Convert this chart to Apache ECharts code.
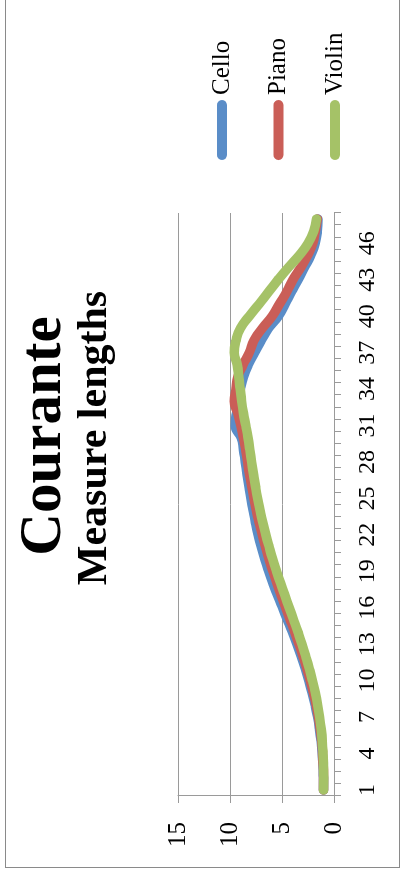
<!DOCTYPE html>
<html>
<head>
<meta charset="utf-8">
<script src="https://cdn.jsdelivr.net/npm/echarts@6/dist/echarts.min.js"></script>
<style>
html,body{margin:0;padding:0;background:#fff;width:401px;height:879px;overflow:hidden;}
#wrap{position:absolute;left:5px;top:868px;width:872px;height:395px;transform-origin:0 0;transform:rotate(-90deg);}
#chart{position:absolute;left:0;top:0;width:872px;height:395px;}
#frame{position:absolute;left:0;top:0;width:872px;height:395px;box-sizing:border-box;border:1px solid #8a8a8a;pointer-events:none;}
</style>
</head>
<body>
<div id="wrap"><div id="chart"></div><div id="frame"></div></div>
<script>
var categories = ['1','2','3','4','5','6','7','8','9','10','11','12','13','14','15','16','17','18','19','20','21','22','23','24','25','26','27','28','29','30','31','32','33','34','35','36','37','38','39','40','41','42','43','44','45','46','47','48'];
var cello = [1.0,1.02,1.06,1.13,1.24,1.39,1.58,1.82,2.1,2.42,2.77,3.15,3.56,4.0,4.47,4.95,5.42,5.86,6.27,6.65,6.99,7.29,7.55,7.78,7.99,8.18,8.36,8.53,8.7,8.92,9.5,9.38,9.22,9.0,8.7,8.25,7.65,7.0,6.3,5.35,4.7,4.1,3.45,2.85,2.25,1.8,1.6,1.55];
var piano = [1.0,1.0,1.04,1.1,1.19,1.32,1.5,1.72,1.98,2.28,2.61,2.97,3.36,3.77,4.2,4.64,5.07,5.48,5.87,6.24,6.58,6.9,7.19,7.46,7.7,7.92,8.12,8.31,8.5,8.7,8.95,9.25,9.6,9.42,9.25,8.75,8.15,7.7,6.9,5.95,5.25,4.55,3.95,3.2,2.55,2.05,1.8,1.6];
var violin = [1.0,0.99,1.01,1.05,1.12,1.23,1.38,1.57,1.8,2.07,2.38,2.72,3.08,3.47,3.88,4.3,4.72,5.13,5.52,5.89,6.23,6.55,6.84,7.1,7.34,7.55,7.74,7.92,8.09,8.27,8.48,8.7,8.88,9.02,9.15,9.3,9.6,9.42,9.0,8.15,7.2,6.3,5.38,4.4,3.35,2.5,1.95,1.68];
var seriesNames = ['Cello','Piano','Violin'];
var valueTicks = [0,5,10,15];

var font = 'Liberation Serif';
var colors = ['#5A8DC8','#CA5E57','#A5C267'];
var chart = echarts.init(document.getElementById('chart'), null, {renderer:'canvas'});
function mk(name, data, color){
  return {name:name, type:'line', data:data, smooth:0.5, showSymbol:false, symbol:'none',
    lineStyle:{width:9.5, color:color, cap:'round', join:'round'}, itemStyle:{color:color}};
}
chart.setOption({
  animation:false,
  backgroundColor:'#fff',
  title:[
    {text:'Courante', left:432, top:10, textAlign:'center', padding:0,
     textStyle:{fontFamily:font, fontWeight:'bold', fontSize:59, lineHeight:59, color:'#000'}},
    {text:'Measure lengths', left:430, top:69, textAlign:'center', padding:0,
     textStyle:{fontFamily:font, fontWeight:'bold', fontSize:42, lineHeight:42, color:'#000'}}
  ],
  legend:{orient:'vertical', left:708, top:202, padding:0, itemWidth:60, itemHeight:10, itemGap:26.5,
    icon:'path://M5,0 L55,0 A5,5 0 0 1 55,10 L5,10 A5,5 0 0 1 5,0 Z',
    data:seriesNames,
    textStyle:{fontFamily:font, fontSize:25, lineHeight:26, color:'#000', padding:[4,0,0,0]}},
  grid:{left:72, top:173, width:583, height:156, containLabel:false},
  xAxis:{type:'category', data:categories, boundaryGap:true,
    axisLine:{lineStyle:{color:'#9a9a9a', width:1}},
    axisTick:{show:true, interval:0, length:7, lineStyle:{color:'#9a9a9a'}},
    axisLabel:{interval:2, margin:22, fontFamily:font, fontSize:24, color:'#000'}},
  yAxis:{type:'value', min:valueTicks[0], max:valueTicks[valueTicks.length-1], interval:5,
    axisLine:{show:true, lineStyle:{color:'#9a9a9a', width:1}},
    axisTick:{show:true, length:7, lineStyle:{color:'#9a9a9a'}},
    splitLine:{show:true, lineStyle:{color:'#9a9a9a', width:1}},
    axisLabel:{margin:26, fontFamily:font, fontSize:25, color:'#000'}},
  series:[mk(seriesNames[0], cello, colors[0]), mk(seriesNames[1], piano, colors[1]), mk(seriesNames[2], violin, colors[2])]
});
</script>
</body>
</html>
